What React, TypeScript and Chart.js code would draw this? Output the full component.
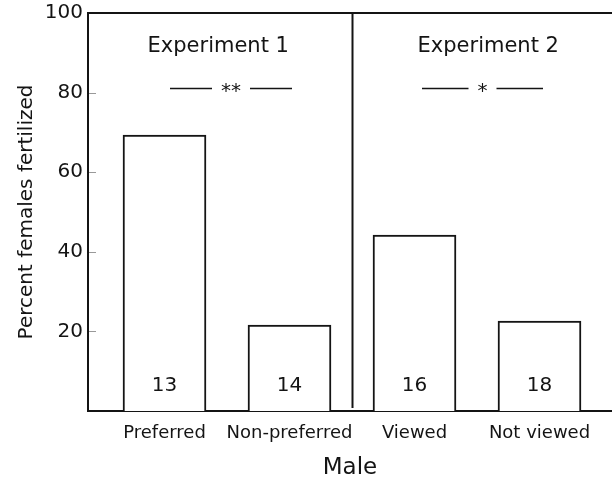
import React, { useEffect, useRef } from "react";
import { Chart, registerables } from "chart.js";

Chart.register(...registerables);

const categories = ["Preferred", "Non-preferred", "Viewed", "Not viewed"];
const percentFertilized = [69.3, 21.6, 44.2, 22.6];
const sampleSizes = [13, 14, 16, 18];
const yTickValues = [20, 40, 60, 80, 100];
const experimentLabels = ["Experiment 1", "Experiment 2"];
const experimentLabelX = [0.43, 2.59];
const sigLabels = ["**", "*"];
const sigSpans = [
  [0.044, 1.02],
  [2.06, 3.028],
];
const sigLevel = 81.2;
const experimentLabelLevel = 91.5;
const sampleLabelLevel = 6.3;
const dividerX = 1.5;

const FONT = "'DejaVu Sans', Verdana, sans-serif";
const INK = "#141414";

const overlayPlugin = {
  id: "overlay",
  afterDatasetsDraw(chart: any) {
    const { ctx, chartArea } = chart;
    const xs = chart.scales.x;
    const ys = chart.scales.y;
    ctx.save();
    ctx.strokeStyle = INK;
    ctx.lineWidth = 2;
    ctx.beginPath();
    ctx.moveTo(chartArea.left, chartArea.top);
    ctx.lineTo(chartArea.right, chartArea.top);
    ctx.stroke();
    const dx = Math.round(xs.getPixelForValue(dividerX)) + 0.5;
    ctx.beginPath();
    ctx.moveTo(dx, chartArea.top);
    ctx.lineTo(dx, chartArea.bottom - 3);
    ctx.stroke();
    ctx.strokeStyle = "#999";
    ctx.lineWidth = 1;
    yTickValues.forEach((v) => {
      if (v >= 100) return;
      const y = Math.round(ys.getPixelForValue(v)) + 0.5;
      ctx.beginPath();
      ctx.moveTo(chartArea.left + 1, y);
      ctx.lineTo(chartArea.left + 8, y);
      ctx.stroke();
    });
    ctx.fillStyle = INK;
    ctx.textAlign = "center";
    ctx.textBaseline = "middle";
    ctx.font = `20px ${FONT}`;
    const meta = chart.getDatasetMeta(0);
    meta.data.forEach((bar: any, i: number) => {
      ctx.fillText(String(sampleSizes[i]), bar.x, ys.getPixelForValue(sampleLabelLevel));
    });
    ctx.font = `21px ${FONT}`;
    experimentLabels.forEach((t, i) => {
      ctx.fillText(t, xs.getPixelForValue(experimentLabelX[i]), ys.getPixelForValue(experimentLabelLevel));
    });
    ctx.font = `20px ${FONT}`;
    sigLabels.forEach((t, i) => {
      const x0 = xs.getPixelForValue(sigSpans[i][0]);
      const x1 = xs.getPixelForValue(sigSpans[i][1]);
      const mid = (x0 + x1) / 2;
      const y = Math.round(ys.getPixelForValue(sigLevel)) + 0.5;
      const w = ctx.measureText(t).width;
      const gap = w / 2 + 9;
      ctx.fillText(t, mid, y + 3);
      ctx.strokeStyle = INK;
      ctx.lineWidth = 1.5;
      ctx.beginPath();
      ctx.moveTo(x0, y);
      ctx.lineTo(mid - gap, y);
      ctx.moveTo(mid + gap, y);
      ctx.lineTo(x1, y);
      ctx.stroke();
    });
    ctx.restore();
  },
};

export default function App() {
  const ref = useRef<HTMLCanvasElement>(null);
  useEffect(() => {
    if (!ref.current) return;
    Chart.defaults.font.family = FONT;
    Chart.defaults.color = INK;
    const chart = new Chart(ref.current, {
      type: "bar",
      data: {
        datasets: [
          {
            data: categories.map((_, i) => ({ x: i, y: percentFertilized[i] })) as any,
            backgroundColor: "#ffffff",
            borderColor: INK,
            borderWidth: 2,
            barThickness: 83,
          },
        ],
      },
      options: {
        responsive: false,
        animation: false,
        devicePixelRatio: 1,
        layout: { padding: { top: 13, left: 0, right: 0, bottom: 0 } },
        plugins: { legend: { display: false }, tooltip: { enabled: false } },
        scales: {
          x: {
            type: "linear",
            offset: false,
            min: -0.612,
            max: 3.58,
            afterBuildTicks: (s: any) => {
              s.ticks = categories.map((_, i) => ({ value: i }));
            },
            afterFit: (s: any) => {
              s.height = 71;
              s.paddingLeft = 0;
              s.paddingRight = 0;
            },
            ticks: {
              callback: (v: any) => categories[Math.round(Number(v))] ?? "",
              font: { size: 18 },
              color: INK,
              padding: 12,
              autoSkip: false,
              maxRotation: 0,
            },
            grid: { display: false, drawTicks: false, offset: false },
            border: { display: true, color: INK, width: 2 },
            title: {
              display: true,
              text: "Male",
              font: { size: 23 },
              color: INK,
              padding: { top: 2, bottom: 0 },
            },
          },
          y: {
            type: "linear",
            min: 0,
            max: 100,
            afterBuildTicks: (s: any) => {
              s.ticks = yTickValues.map((v) => ({ value: v }));
            },
            afterFit: (s: any) => {
              s.width = 88;
              s.paddingTop = 0;
              s.paddingBottom = 0;
            },
            ticks: { font: { size: 20 }, color: INK, padding: 5 },
            grid: { display: false, drawTicks: false },
            border: { display: true, color: INK, width: 2 },
            title: {
              display: true,
              text: "Percent females fertilized",
              font: { size: 20 },
              color: INK,
              padding: { top: 15, bottom: 0 },
            },
          },
        },
      },
      plugins: [overlayPlugin],
    });
    return () => chart.destroy();
  }, []);
  return (
    <div style={{ position: "absolute", left: 0, top: 0, width: 612, height: 482 }}>
      <canvas ref={ref} width={612} height={482} />
    </div>
  );
}
